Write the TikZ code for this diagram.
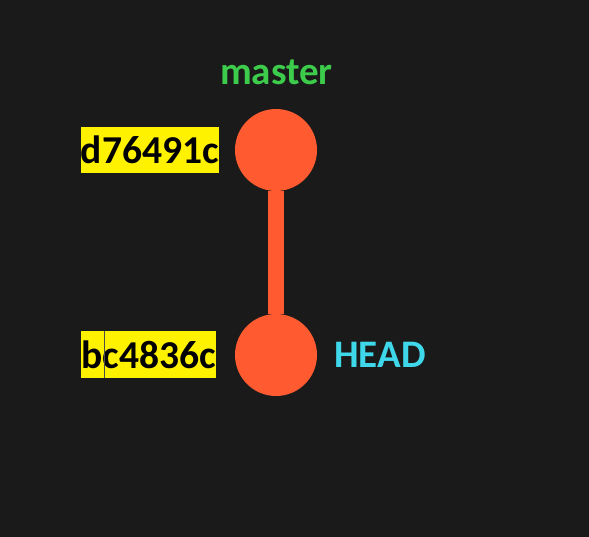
\documentclass[tikz,border=0pt]{standalone}
\usepackage{fontspec}
\setmainfont{Carlito}
\definecolor{bg}{HTML}{1A1A1A}
\definecolor{commit}{HTML}{FF5A30}
\definecolor{hashbg}{HTML}{FFF200}
\definecolor{mastergreen}{HTML}{3CCB4A}
\definecolor{headcyan}{HTML}{3ED8EA}
\begin{document}
\begin{tikzpicture}[x=1pt,y=-1pt,
  commitnode/.style={circle,fill=commit,minimum size=82pt,inner sep=0pt},
  hashlabel/.style={fill=hashbg,text=black,font=\fontsize{39.5}{42}\selectfont\bfseries,inner sep=0pt,minimum height=46pt},
  reflabel/.style={font=\fontsize{39}{42}\selectfont\bfseries,inner sep=0pt}]
\fill[bg] (0,0) rectangle (589,537);
\useasboundingbox (0,0) rectangle (589,537);
\node[commitnode] (c1) at (276,150) {};
\node[commitnode] (c2) at (276,355) {};
\draw[commit,line width=16pt] (c1) -- (c2);
\node[hashlabel,anchor=east,minimum width=137pt] (h1) at (219,150) {d76491c};
\node[hashlabel,anchor=east,minimum width=134pt] (h2) at (216,354.5) {bc4836c};
\draw[black!70,line width=0.8pt] (104,331.5) -- (104,377.5);
\node[reflabel,text=mastergreen] (m) at (276.5,72) {master};
\node[reflabel,text=headcyan,anchor=west] (hd) at (334,355) {HEAD};
\end{tikzpicture}
\end{document}
